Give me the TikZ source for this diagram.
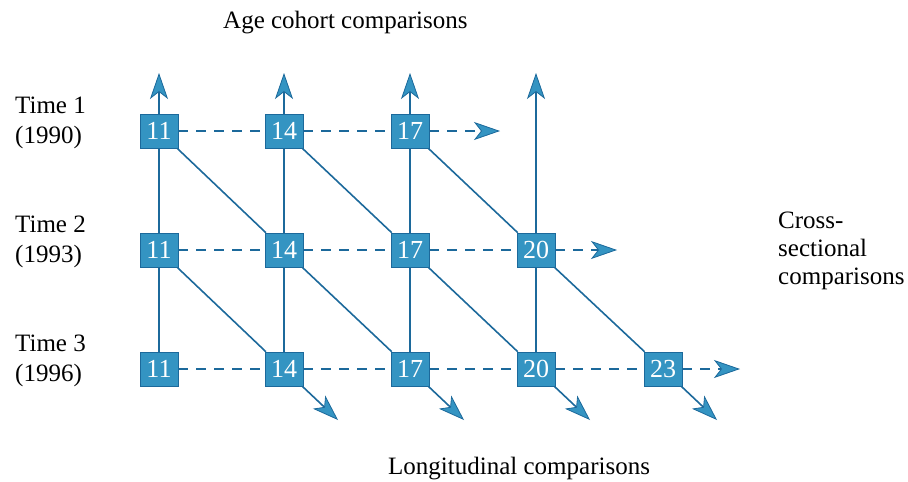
\documentclass[tikz,border=0pt]{standalone}
\usepackage{fontspec}
\setmainfont{Liberation Serif}
\usetikzlibrary{arrows.meta}
\definecolor{boxblue}{RGB}{52,148,194}
\definecolor{lineblue}{RGB}{28,105,155}
\begin{document}
\begin{tikzpicture}[x=1pt,y=-1pt,
  agebox/.style={rectangle, fill=boxblue, draw=lineblue, line width=0.6pt,
    minimum width=38pt, minimum height=34pt, inner sep=0pt, text=white,
    font=\fontsize{26}{30}\selectfont},
  link/.style={draw=lineblue, line width=1.6pt},
  dlink/.style={link, dash pattern=on 10pt off 8pt},
  tipped/.style={-{Stealth[length=26pt,width=18pt,inset=7pt,fill=boxblue,line width=0.8pt]}},
  lbl/.style={font=\fontsize{25}{30}\selectfont, inner sep=0pt}]
\useasboundingbox (0,0) rectangle (908,482);

% boxes
\node[agebox] (b11) at (159,131) {11};
\node[agebox] (b12) at (284,131) {14};
\node[agebox] (b13) at (410,131) {17};
\node[agebox] (b21) at (159,250) {11};
\node[agebox] (b22) at (284,250) {14};
\node[agebox] (b23) at (410,250) {17};
\node[agebox] (b24) at (536,250) {20};
\node[agebox] (b31) at (159,369) {11};
\node[agebox] (b32) at (284,369) {14};
\node[agebox] (b33) at (410,369) {17};
\node[agebox] (b34) at (536,369) {20};
\node[agebox] (b35) at (663,369) {23};

% free arrow ends
\coordinate (t1) at (159,73);
\coordinate (t2) at (284,73);
\coordinate (t3) at (410,73);
\coordinate (t4) at (536,73);
\coordinate (h1) at (500,131);
\coordinate (h2) at (617,250);
\coordinate (h3) at (740,369);
\coordinate (d1) at (338,420);
\coordinate (d2) at (464,420);
\coordinate (d3) at (590,420);
\coordinate (d4) at (717,420);

% vertical (age cohort)
\draw[link] (b31) -- (b21);
\draw[link] (b21) -- (b11);
\draw[link,tipped] (b11) -- (t1);
\draw[link] (b32) -- (b22);
\draw[link] (b22) -- (b12);
\draw[link,tipped] (b12) -- (t2);
\draw[link] (b33) -- (b23);
\draw[link] (b23) -- (b13);
\draw[link,tipped] (b13) -- (t3);
\draw[link] (b34) -- (b24);
\draw[link,tipped] (b24) -- (t4);

% diagonal (longitudinal)
\draw[link] (b21) -- (b32);
\draw[link,tipped] (b32) -- (d1);
\draw[link] (b11) -- (b22);
\draw[link] (b22) -- (b33);
\draw[link,tipped] (b33) -- (d2);
\draw[link] (b12) -- (b23);
\draw[link] (b23) -- (b34);
\draw[link,tipped] (b34) -- (d3);
\draw[link] (b13) -- (b24);
\draw[link] (b24) -- (b35);
\draw[link,tipped] (b35) -- (d4);

% horizontal dashed (cross-sectional)
\draw[dlink] (b11) -- (b12);
\draw[dlink] (b12) -- (b13);
\draw[dlink,tipped] (b13) -- (h1);
\draw[dlink] (b21) -- (b22);
\draw[dlink] (b22) -- (b23);
\draw[dlink] (b23) -- (b24);
\draw[dlink,tipped] (b24) -- (h2);
\draw[dlink] (b31) -- (b32);
\draw[dlink] (b32) -- (b33);
\draw[dlink] (b33) -- (b34);
\draw[dlink] (b34) -- (b35);
\draw[dlink,tipped] (b35) -- (h3);

% labels
\node[lbl, anchor=base west] (topl) at (223,28) {Age cohort comparisons};
\node[lbl, anchor=base west] (botl) at (388,474) {Longitudinal comparisons};
\node[lbl, anchor=base west, align=left] (time1) at (15,143) {Time 1\\(1990)};
\node[lbl, anchor=base west, align=left] (time2) at (15,262) {Time 2\\(1993)};
\node[lbl, anchor=base west, align=left] (time3) at (15,381) {Time 3\\(1996)};
\node[lbl, anchor=base west, align=left, font=\fontsize{25}{28}\selectfont] (cross) at (778,284) {Cross-\\sectional\\comparisons};
\end{tikzpicture}
\end{document}
